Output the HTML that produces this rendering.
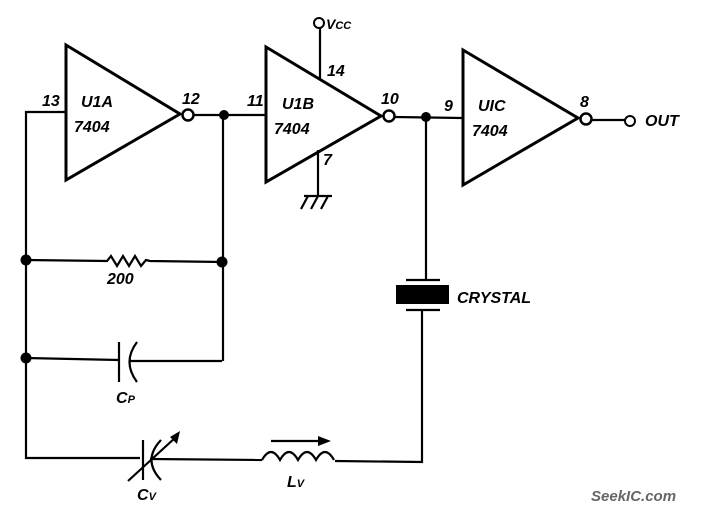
<!DOCTYPE html>
<html><head><meta charset="utf-8"><style>
html,body{margin:0;padding:0;background:#fff;}
svg{display:block;}
text{font-family:"Liberation Sans",sans-serif;font-style:italic;font-weight:bold;fill:#000;}
</style></head><body>
<svg width="710" height="514" viewBox="0 0 710 514" xmlns="http://www.w3.org/2000/svg">
<g fill="none" stroke="#000" stroke-width="2.2" stroke-linejoin="miter">
<!-- U1A -->
<path d="M66,45 L180,114 L66,180 Z" stroke-width="3"/>
<circle cx="188" cy="115" r="5.5" stroke-width="2.5"/>
<line x1="194" y1="115" x2="266" y2="115"/>
<polyline points="66,112 26,112 26,458 140,458"/>
<!-- U1B -->
<path d="M266,47 L381,116 L266,182 Z" stroke-width="3"/>
<circle cx="389" cy="116" r="5.5" stroke-width="2.5"/>
<line x1="320" y1="28" x2="320" y2="79"/>
<circle cx="319" cy="23" r="5" stroke-width="2"/>
<line x1="318" y1="150" x2="318" y2="196"/>
<line x1="304" y1="196" x2="332" y2="196"/>
<line x1="308" y1="196" x2="301" y2="209"/>
<line x1="318" y1="196" x2="311" y2="209"/>
<line x1="328" y1="196" x2="321" y2="209"/>
<!-- U1C -->
<line x1="395" y1="117" x2="462" y2="118"/>
<path d="M463,50 L578,118 L463,185 Z" stroke-width="3"/>
<circle cx="586" cy="119" r="5.5" stroke-width="2.5"/>
<line x1="592" y1="120" x2="625" y2="120"/>
<circle cx="630" cy="121" r="5" stroke-width="2"/>
<!-- right vertical to crystal -->
<line x1="223" y1="115" x2="223" y2="361"/>
<line x1="426" y1="117" x2="426" y2="279"/>
<line x1="406" y1="280" x2="440" y2="280"/>
<line x1="406" y1="310" x2="440" y2="310"/>
<polyline points="422,311 422,462 335,461"/>
<!-- resistor -->
<polyline points="26,260 107,261 111,256 117,266 123,256 129,266 135,256 141,266 146,260 150,261 223,262"/>
<!-- Cp -->
<line x1="26" y1="358" x2="119" y2="360"/>
<line x1="119" y1="342" x2="119" y2="382"/>
<path d="M137,342 Q122,362 137,382"/>
<line x1="129" y1="361" x2="222" y2="361"/>
<!-- Cv -->
<line x1="143" y1="440" x2="143" y2="480"/>
<path d="M161,440 Q142,460 161,480"/>
<line x1="150" y1="459" x2="262" y2="460"/>
<line x1="128" y1="481" x2="176" y2="437"/>
<!-- inductor -->
<path d="M262,460 Q271,444 280,460 Q289,444 298,460 Q307,444 316,460 Q325,444 334,460"/>
<line x1="271" y1="441" x2="320" y2="441"/>
</g>
<g fill="#000">
<circle cx="224" cy="115" r="5"/>
<circle cx="426" cy="117" r="5"/>
<circle cx="26" cy="260" r="5.5"/>
<circle cx="222" cy="262" r="5.5"/>
<circle cx="26" cy="358" r="5.5"/>
<rect x="396" y="285" width="53" height="19"/>
<polygon points="180,431 170,437 177,444"/>
<polygon points="318,436 331,441 318,446"/>
</g>
<g font-size="16">
<text x="42" y="106">13</text>
<text x="81" y="107">U1A</text>
<text x="74" y="132">7404</text>
<text x="182" y="104">12</text>
<text x="247" y="106">11</text>
<text x="282" y="109">U1B</text>
<text x="274" y="134">7404</text>
<text x="327" y="76">14</text>
<text x="326" y="29" font-size="14">V<tspan font-size="11">CC</tspan></text>
<text x="323" y="165">7</text>
<text x="381" y="104">10</text>
<text x="444" y="111" font-style="normal">9</text>
<text x="478" y="111">UIC</text>
<text x="472" y="136">7404</text>
<text x="580" y="107">8</text>
<text x="645" y="126">OUT</text>
<text x="457" y="303">CRYSTAL</text>
<text x="107" y="284">200</text>
<text x="116" y="403">C<tspan font-size="11">P</tspan></text>
<text x="137" y="500">C<tspan font-size="11">V</tspan></text>
<text x="287" y="487">L<tspan font-size="11">V</tspan></text>
</g>
<text x="591" y="501" font-size="15" font-style="normal" style="fill:#666">SeekIC.com</text>
</svg>
</body></html>
